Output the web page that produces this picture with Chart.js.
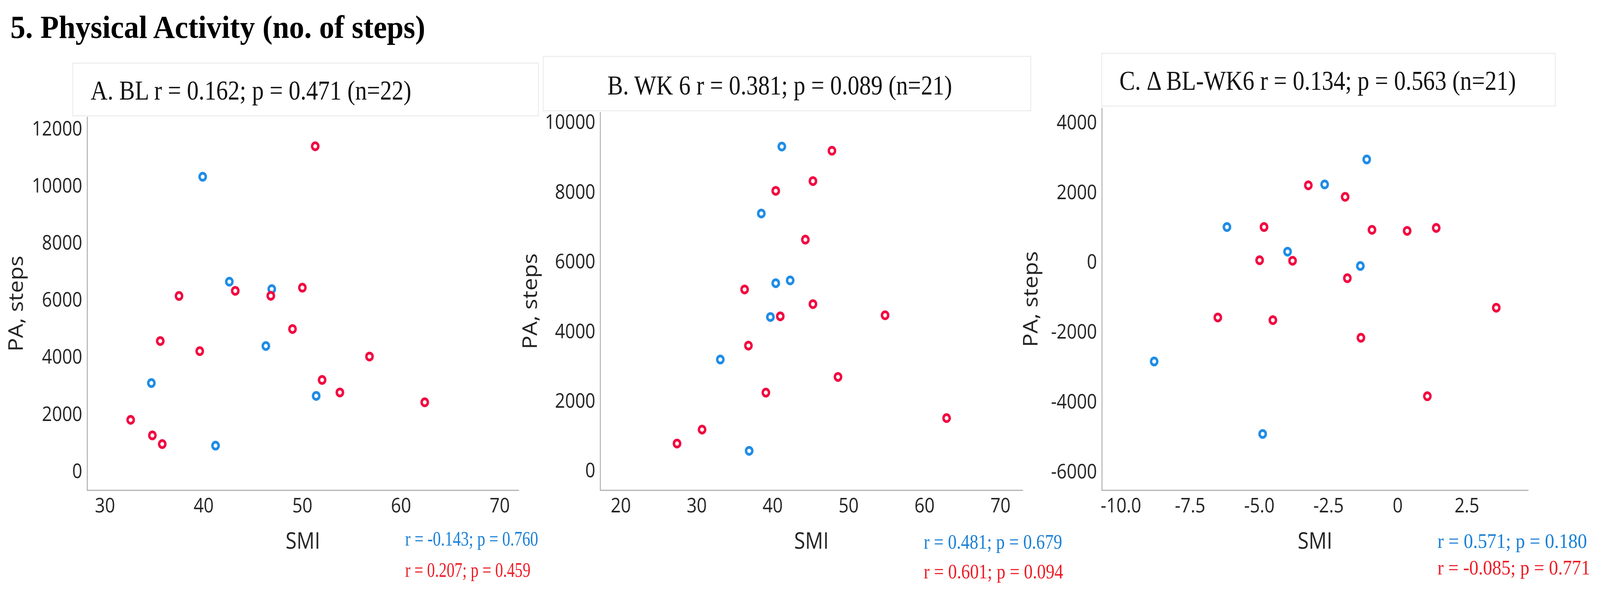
<!DOCTYPE html>
<html>
<head>
<meta charset="utf-8">
<title>Physical Activity (no. of steps)</title>
<script src="https://cdn.jsdelivr.net/npm/chart.js@4.4.1/dist/chart.umd.min.js"></script>
<style>
    html, body { margin: 0; padding: 0; background: #fff; overflow: hidden; }
    #page { position: relative; width: 4628px; height: 1544px; overflow: hidden; background: #fff; transform-origin: 0 0; }
    #page canvas { position: absolute; top: 0; z-index: 2; }
    .txt { position: absolute; white-space: nowrap; line-height: 1; transform-origin: 0 0; z-index: 5;
           font-family: "Liberation Serif", "Times New Roman", serif; }
    .box { position: absolute; border: 3px solid #eeeeee; box-sizing: border-box; z-index: 0; }
</style>
</head>
<body>
<div id="page">
    <div class="box" style="left:209px;top:160px;width:1350px;height:138px"></div>
    <div class="box" style="left:1570px;top:143px;width:1413px;height:142px"></div>
    <div class="box" style="left:3185px;top:135px;width:1315px;height:138px"></div>
    <canvas id="chartA"></canvas>
    <canvas id="chartB"></canvas>
    <canvas id="chartC"></canvas>
</div>
<script>
(function () {
    "use strict";

    // ---- A. baseline (BL) ----
    const blSmiBlue   = [39.9, 42.6, 46.9, 46.3, 34.7, 51.4, 41.2];
    const blStepsBlue = [10360, 6680, 6420, 4425, 3125, 2675, 930];
    const blSmiRed    = [51.3, 43.2, 46.8, 50.0, 37.5, 49.0, 35.6, 39.6, 56.8, 52.0, 53.8, 62.4, 32.6, 34.8, 35.8];
    const blStepsRed  = [11430, 6360, 6185, 6470, 6180, 5020, 4600, 4245, 4055, 3235, 2795, 2450, 1835, 1290, 985];

    // ---- B. week 6 ----
    const wkSmiBlue   = [41.2, 38.5, 42.3, 40.4, 39.7, 33.1, 36.9];
    const wkStepsBlue = [9330, 7410, 5490, 5410, 4440, 3220, 600];
    const wkSmiRed    = [47.8, 45.3, 40.4, 44.3, 36.3, 45.3, 41.0, 54.8, 36.8, 48.6, 39.1, 62.9, 30.7, 27.4];
    const wkStepsRed  = [9210, 8340, 8060, 6660, 5230, 4810, 4460, 4490, 3620, 2720, 2270, 1540, 1210, 810];

    // ---- C. change BL-WK6 ----
    const dSmiBlue    = [-1.12, -2.64, -6.17, -3.98, -1.35, -8.80, -4.88];
    const dStepsBlue  = [2970, 2255, 1035, 330, -80, -2815, -4890];
    const dSmiRed     = [-3.23, -1.90, -4.83, -0.93, 0.34, 1.39, -4.99, -3.80, -1.82, 3.56, -6.50, -4.51, -1.33, 1.07];
    const dStepsRed   = [2230, 1900, 1035, 955, 925, 1010, 85, 70, -430, -1275, -1555, -1630, -2135, -3810];

    // ---- ticks ----
    const xTicksAB  = [30, 40, 50, 60, 70];
    const xTicksB   = [20, 30, 40, 50, 60, 70];
    const yTicksA   = [0, 2000, 4000, 6000, 8000, 10000, 12000];
    const yTicksB   = [0, 2000, 4000, 6000, 8000, 10000];
    const xTicksC   = [-10, -7.5, -5, -2.5, 0, 2.5];
    const xLabelsC  = ["-10.0", "-7.5", "-5.0", "-2.5", "0", "2.5"];
    const yTicksC   = [-6000, -4000, -2000, 0, 2000, 4000];

    const BLUE = "#1e8ce6";
    const RED = "#f2073f";
    const AXIS = "#b4b4b4";
    const INK = "#222222";
    const TICK_FONT = { family: "'Open Sans', sans-serif", size: 51 };
    const AXIS_FONT = { family: "'Open Sans', sans-serif", size: 58 };

    const zip = (xs, ys) => xs.map((x, i) => ({ x, y: ys[i] }));

    function pointSet(data, color) {
        return {
            data,
            pointStyle: "circle",
            pointRadius: 9,
            pointHoverRadius: 9,
            pointBorderWidth: 7,
            pointBorderColor: color,
            pointBackgroundColor: "#ffffff"
        };
    }

    /* ---------------- one scatter panel ---------------- */
    function makePanel(id, frame, cfg) {
        const el = document.getElementById(id);
        el.width = frame.width;
        el.height = 1544;
        el.style.left = frame.left + "px";

        return new Chart(el, {
            type: "scatter",
            data: {
                // red first so it is painted on top
                datasets: [pointSet(cfg.red, RED), pointSet(cfg.blue, BLUE)]
            },
            options: {
                responsive: false,
                animation: false,
                devicePixelRatio: 1,
                events: [],
                layout: { padding: { left: 0, top: frame.padTop, right: frame.padRight, bottom: 0 } },
                plugins: { legend: { display: false }, tooltip: { enabled: false } },
                scales: {
                    x: {
                        type: "linear",
                        min: cfg.xMin, max: cfg.xMax,
                        grid: { display: false, drawTicks: false },
                        border: { display: true, color: AXIS, width: 3 },
                        afterBuildTicks: (s) => { s.ticks = cfg.xTicks.map(v => ({ value: v })); },
                        afterFit: (s) => { s.height = frame.xH; },
                        ticks: {
                            autoSkip: false, maxRotation: 0, padding: 12, color: INK, font: TICK_FONT,
                            callback: (v, i) => cfg.xLabels ? cfg.xLabels[i] : String(cfg.xTicks[i])
                        },
                        title: { display: true, text: "SMI", color: INK, font: AXIS_FONT, padding: { top: 0, bottom: 121 } }
                    },
                    y: {
                        type: "linear",
                        min: cfg.yMin, max: cfg.yMax,
                        grid: { display: false, drawTicks: false },
                        border: { display: true, color: AXIS, width: 3 },
                        afterBuildTicks: (s) => { s.ticks = cfg.yTicks.map(v => ({ value: v })); },
                        afterFit: (s) => { s.width = frame.yW; },
                        ticks: {
                            autoSkip: false, padding: 14, color: INK, font: TICK_FONT,
                            callback: (v, i) => String(cfg.yTicks[i])
                        },
                        title: { display: true, text: "PA, steps", color: INK, font: AXIS_FONT, padding: { top: frame.yTitlePad, bottom: 0 } }
                    }
                }
            }
        });
    }

    makePanel("chartA",
        { left: 0, width: 1540, padTop: 300, padRight: 40, yW: 252, xH: 289, yTitlePad: 15 },
        { xMin: 28.19, xMax: 71.91, yMin: -630, yMax: 12450, xTicks: xTicksAB, yTicks: yTicksA,
          blue: zip(blSmiBlue, blStepsBlue), red: zip(blSmiRed, blStepsRed) });

    makePanel("chartB",
        { left: 1500, width: 1500, padTop: 288, padRight: 42, yW: 236, xH: 289, yTitlePad: 2 },
        { xMin: 17.28, xMax: 72.92, yMin: -527, yMax: 10308, xTicks: xTicksB, yTicks: yTicksB,
          blue: zip(wkSmiBlue, wkStepsBlue), red: zip(wkSmiRed, wkStepsRed) });

    makePanel("chartC",
        { left: 2950, width: 1678, padTop: 277, padRight: 208, yW: 237, xH: 289, yTitlePad: 0 },
        { xMin: -10.69, xMax: 4.71, yMin: -6499, yMax: 4439, xTicks: xTicksC, xLabels: xLabelsC, yTicks: yTicksC,
          blue: zip(dSmiBlue, dStepsBlue), red: zip(dSmiRed, dStepsRed) });

    /* ---------------- titles and r/p notes (real text, fitted to width) ---------------- */
    const BLUE_T = "#1a80d6";
    const RED_T = "#ee1c25";
    const TEXTS = [
        { t: "5. Physical Activity (no. of steps)", x: 30, base: 97, size: 82, w: 1200, bold: true, color: "#000" },
        { t: "A. BL r = 0.162; p = 0.471 (n=22)", x: 262, base: 255, size: 70, w: 928, color: "#111" },
        { t: "B. WK 6 r = 0.381; p = 0.089 (n=21)", x: 1757, base: 242, size: 70, w: 997, color: "#111" },
        { t: "C. \u0394 BL-WK6 r = 0.134; p = 0.563 (n=21)", x: 3238, base: 230, size: 70, w: 1147, color: "#111" },
        { t: "r = -0.143; p = 0.760", x: 1172, base: 1397, size: 52, w: 385, color: BLUE_T },
        { t: "r = 0.207; p = 0.459", x: 1172, base: 1477, size: 52, w: 362, color: RED_T },
        { t: "r = 0.481; p = 0.679", x: 2672, base: 1405, size: 52, w: 400, color: BLUE_T },
        { t: "r = 0.601; p = 0.094", x: 2672, base: 1481, size: 52, w: 403, color: RED_T },
        { t: "r = 0.571; p = 0.180", x: 4158, base: 1403, size: 52, w: 432, color: BLUE_T },
        { t: "r = -0.085; p = 0.771", x: 4158, base: 1471, size: 52, w: 442, color: RED_T }
    ];

    const page = document.getElementById("page");
    TEXTS.forEach((o) => {
        const d = document.createElement("div");
        d.className = "txt";
        d.style.fontSize = o.size + "px";
        d.style.fontWeight = o.bold ? "700" : "400";
        d.style.color = o.color;
        d.style.left = o.x + "px";
        d.textContent = o.t;
        const probe = document.createElement("span"); // zero-height marker sitting on the baseline
        probe.style.cssText = "display:inline-block;width:0;height:0;vertical-align:baseline";
        d.appendChild(probe);
        page.appendChild(d);
        d.style.top = (o.base - probe.offsetTop) + "px";
        const sx = o.w / d.offsetWidth;
        d.style.transform = "scaleX(" + sx.toFixed(4) + ")";
    });

    // the window may be narrower than the 4628px figure: squeeze it horizontally to fit
    const fit = window.innerWidth / 4628;
    if (fit < 1) page.style.transform = "scaleX(" + fit.toFixed(5) + ")";
})();
</script>
</body>
</html>
